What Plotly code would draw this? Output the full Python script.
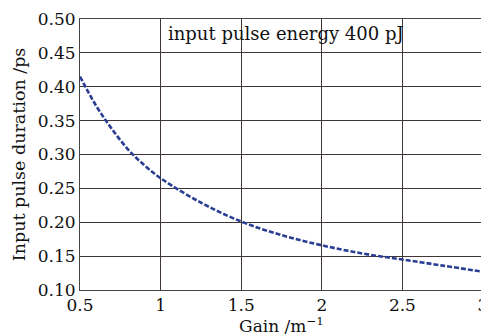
import plotly.graph_objects as go

gain = [0.5, 0.6, 0.7, 0.8, 0.9, 1.0, 1.25, 1.5, 1.75, 2.0, 2.25, 2.5, 2.75, 3.0]
duration = [0.415, 0.372, 0.337, 0.307, 0.284, 0.265, 0.229, 0.201, 0.181, 0.166, 0.154, 0.145, 0.136, 0.127]

x_ticks = [0.5, 1, 1.5, 2, 2.5, 3]
x_labels = ["0.5", "1", "1.5", "2", "2.5", "3"]
y_ticks = [0.10, 0.15, 0.20, 0.25, 0.30, 0.35, 0.40, 0.45, 0.50]
y_labels = ["0.10", "0.15", "0.20", "0.25", "0.30", "0.35", "0.40", "0.45", "0.50"]

font_family = "DejaVu Serif, Liberation Serif, serif"

fig = go.Figure()
fig.add_trace(go.Scatter(
    x=gain, y=duration, mode="lines",
    line=dict(color="#2a3f94", width=2.6, dash="5px,2px", shape="spline"),
    showlegend=False,
))

fig.add_annotation(
    x=1.78, y=0.497, xref="x", yref="y",
    text="input pulse energy 400 pJ", showarrow=False,
    font=dict(family=font_family, size=18, color="#111"),
    yanchor="top",
)

# y-axis title placed as a rotated annotation to sit close to the page edge
fig.add_annotation(
    x=-0.152, y=0.5, xref="paper", yref="paper",
    text="Input pulse duration /ps", showarrow=False, textangle=-90,
    font=dict(family=font_family, size=17.5, color="#111"),
    xanchor="center", yanchor="middle",
)

axis_common = dict(
    showline=True, linecolor="#444", linewidth=1, mirror=True,
    showgrid=True, gridcolor="#3f3532", gridwidth=1,
    zeroline=False, ticks="", automargin=False, ticklabeloverflow="allow",
    tickfont=dict(family=font_family, size=17, color="#111"),
)

# page body has an 8px margin, so the figure is sized to fit the window
fig.update_layout(
    width=481, height=328,
    margin=dict(l=72, r=6, t=11, b=46),
    plot_bgcolor="white", paper_bgcolor="white",
    xaxis=dict(range=[0.5, 3], tickvals=x_ticks, ticktext=x_labels,
               title=dict(text="Gain /m<sup>−1</sup>", standoff=2,
                          font=dict(family=font_family, size=17, color="#111")),
               **axis_common),
    yaxis=dict(range=[0.10, 0.50], tickvals=y_ticks, ticktext=y_labels,
               **axis_common),
)

fig.write_html("out.html")
